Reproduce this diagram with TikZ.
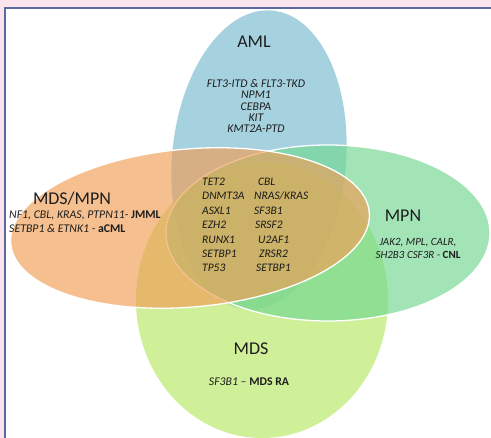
\documentclass[tikz,border=0pt]{standalone}
\usepackage{fontspec}
\setmainfont{Carlito}
\definecolor{pagepink}{RGB}{252,228,236}
\definecolor{framebl}{RGB}{90,106,160}
\definecolor{amlc}{RGB}{120,188,208}
\definecolor{mdsc}{RGB}{183,232,100}
\definecolor{mpnc}{RGB}{114,215,145}
\definecolor{mixc}{RGB}{240,158,85}
\definecolor{ink}{RGB}{30,30,30}
\begin{document}
\begin{tikzpicture}[x=1pt,y=-1pt,
  set/.style={fill opacity=0.66},
  rim/.style={draw=white, line width=1.3pt, draw opacity=1},
  title/.style={font=\fontsize{18}{20}\selectfont, text=ink, inner sep=0pt},
  genes/.style={font=\fontsize{11.8}{11.3}\selectfont\itshape, text=ink, inner sep=0pt},
  core/.style={font=\fontsize{11.5}{14.4}\selectfont\itshape, text=ink!85!black, inner sep=0pt, align=left, anchor=west},
]
\useasboundingbox (0,0) rectangle (491,438);
% page and panel
\fill[pagepink] (0,0) rectangle (491,438);
\filldraw[fill=white, draw=framebl, line width=1.4pt] (5,8) rectangle (500,450);

% four sets
\fill[amlc, set] (259,160) ellipse [x radius=87, y radius=150, rotate=-5];
\fill[mdsc, set] (262,300) ellipse [x radius=126, y radius=138];
\path[fill=mpnc, set, rim] (328,233) ellipse [x radius=162, y radius=88];
\path[fill=mixc, set, rim] (190,228) ellipse [x radius=180, y radius=79, rotate=5];

% AML
\node[title] (amlT) at (254,42) {AML};
\node[genes, align=center] (amlG) at (256,106) {FLT3-ITD \& FLT3-TKD\\NPM1\\CEBPA\\KIT\\KMT2A-PTD};

% MDS/MPN
\node[title] (mixT) at (72,199) {MDS/MPN};
\node[genes, align=left, anchor=west, font=\fontsize{11.8}{14}\selectfont\itshape] (mixG) at (9,222)
  {NF1, CBL, KRAS, PTPN11- \textbf{\upshape JMML}\\SETBP1 \& ETNK1 - \textbf{\upshape aCML}};

% MPN
\node[title] (mpnT) at (403,216) {MPN};
\node[genes, align=center, font=\fontsize{11}{13}\selectfont\itshape] (mpnG) at (418,248.5)
  {JAK2, MPL, CALR,\\SH2B3 CSF3R - \textbf{\upshape CNL}};

% MDS
\node[title] (mdsT) at (251,349) {MDS};
\node[genes] (mdsG) at (249,382) {SF3B1 -- \textbf{\upshape MDS RA}};

% shared genes
\node[core] (coreL) at (202,225) {TET2\\DNMT3A\\ASXL1\\EZH2\\RUNX1\\SETBP1\\TP53};
\node[core] (coreR) at (254,225) {\hspace*{4pt}CBL\\NRAS/KRAS\\SF3B1\\\hspace*{1pt}SRSF2\\\hspace*{4pt}U2AF1\\\hspace*{5pt}ZRSR2\\\hspace*{2pt}SETBP1};
\end{tikzpicture}
\end{document}
